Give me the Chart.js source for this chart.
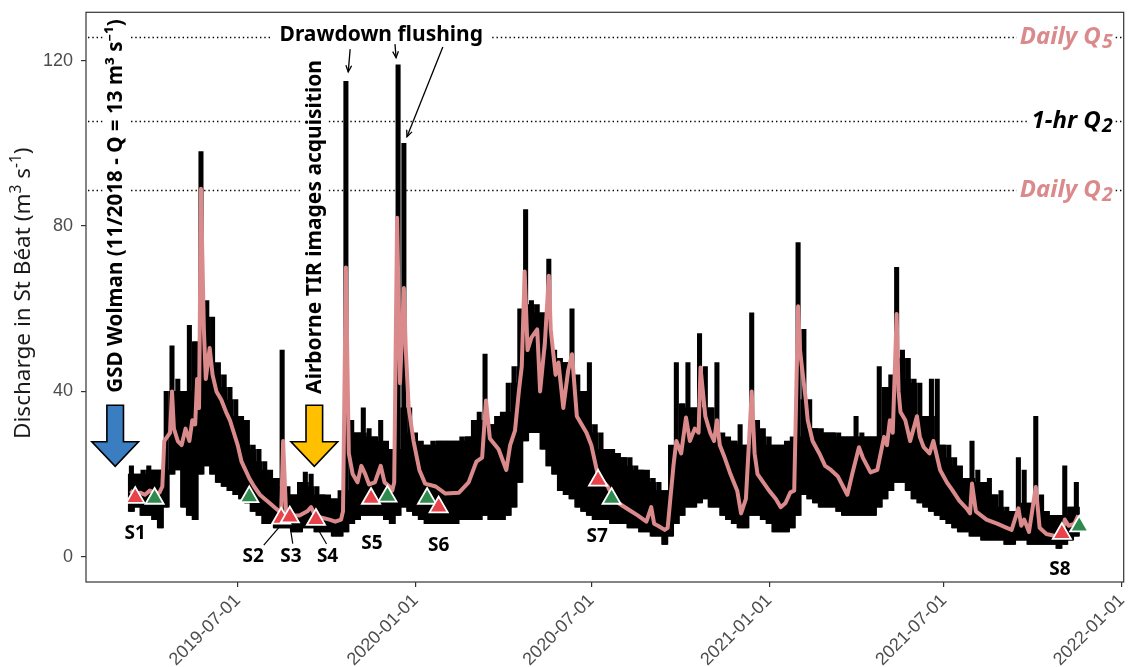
<!DOCTYPE html>
<html>
<head>
<meta charset="utf-8">
<title>Discharge in St Béat</title>
<script src="https://cdn.jsdelivr.net/npm/chart.js@4/dist/chart.umd.min.js"></script>
<style>
  html, body { margin: 0; padding: 0; background: #fff; }
</style>
</head>
<body>
<canvas id="qChart" width="1136" height="667"></canvas>
<script>
// day numbers count from 2019-01-01
const origin = Date.UTC(2019, 0, 1);
const toDay = s => (Date.parse(s) - origin) / 864e5;
const toDate = d => new Date(origin + d * 864e5).toISOString().slice(0, 10);

const tickDates = ['2019-07-01', '2020-01-01', '2020-07-01', '2021-01-01', '2021-07-01', '2022-01-01'];
const qTicks = [0, 40, 80, 120];

// hourly record, summarised in 6-day blocks (lowest / highest hourly value)
const hourlyStart = '2019-03-10';
const hourlyStep = 6;
const hourlyMin = [
  11, 12, 10, 10, 9, 7,
  12, 20, 21, 12, 10, 9,
  20, 22, 20, 18, 17, 16,
  15, 14, 13, 11, 10, 8,
  8, 7, 7, 7, 6, 6,
  7, 7, 6, 6, 6, 5,
  5, 6, 8, 9, 10, 10,
  10, 10, 9, 8, 10, 12,
  11, 10, 9, 8, 8, 8,
  8, 8, 8, 9, 9, 9,
  9, 10, 9, 9, 9, 10,
  12, 18, 28, 30, 30, 26,
  22, 20, 16, 15, 14, 12,
  11, 10, 9, 9, 9, 8,
  8, 8, 7, 7, 6, 6,
  5, 5, 3, 5, 8, 10,
  12, 12, 13, 14, 12, 12,
  10, 9, 8, 7, 7, 10,
  10, 9, 8, 6, 6, 6,
  7, 10, 15, 14, 13, 12,
  12, 12, 11, 10, 10, 10,
  10, 10, 10, 12, 14, 16,
  18, 18, 16, 14, 13, 12,
  11, 10, 9, 8, 7, 6,
  6, 5, 5, 4, 4, 4,
  4, 3, 3, 4, 4, 3,
  3, 3, 3, 3, 2, 3,
  4, 5
];
const hourlyMax = [
  22, 20, 21, 22, 21, 21,
  40, 51, 43, 40, 56, 52,
  98, 62, 58, 47, 44, 41,
  38, 34, 33, 27, 26, 23,
  21, 19, 50, 17, 15, 18,
  20.5, 20, 17, 15, 15, 14,
  16, 115, 33, 30, 36, 31,
  29, 33, 28, 26, 119, 100,
  36, 30, 28, 27, 28, 28,
  28, 28, 28, 29, 29, 33,
  35, 49, 32, 34, 35, 42,
  46, 60, 84, 62, 61, 59,
  72, 50, 48, 47, 60, 44,
  40, 47, 32, 30, 26, 26,
  25, 24, 24, 22, 21, 21,
  19, 18, 16, 27, 47, 37,
  47, 36, 54, 46, 36, 47,
  30, 29, 28, 32, 27, 59,
  33, 31, 29, 27, 27, 28,
  29, 76, 55, 38, 31, 31,
  30, 30, 30, 29, 29, 34,
  30, 29, 29, 46, 41, 44,
  70, 50, 48, 43, 42, 34,
  43, 43, 27, 27, 24, 22,
  19, 28, 21, 18, 19, 15,
  16, 12, 11, 24, 21, 13,
  34, 15, 11, 10, 10, 22,
  12, 18
];

// daily mean discharge
const dailyDay = [
  70, 75, 80, 85, 90, 95, 100, 103, 105, 108,
  111, 113, 115, 119, 123, 127, 131, 134, 137, 139,
  141, 143, 146, 148, 152, 155, 159, 164, 169, 173,
  177, 181, 185, 189, 193, 198, 204, 209, 214, 219,
  224, 226, 228, 231, 237, 245, 253, 257, 261, 267,
  276, 282, 288, 290, 293, 296, 300, 305, 309, 313,
  317, 323, 329, 333, 338, 341, 343, 346, 349, 353,
  355, 358, 363, 369, 375, 386, 396, 410, 420, 428,
  434, 438, 442, 451, 459, 463, 468, 472, 475, 478,
  481, 485, 491, 494, 499, 503, 505, 510, 513, 518,
  523, 527, 532, 537, 542, 547, 554, 564, 568, 575,
  585, 595, 604, 609, 612, 616, 623, 626, 628, 632,
  635, 640, 645, 649, 654, 658, 660, 665, 670, 674,
  677, 680, 685, 691, 698, 702, 707, 713, 716, 719,
  725, 731, 738, 743, 748, 753, 757, 761, 763, 765,
  769, 771, 776, 783, 789, 795, 802, 812, 817, 824,
  828, 836, 843, 850, 853, 856, 859, 863, 865, 867,
  872, 877, 884, 887, 891, 897, 901, 908, 915, 921,
  928, 936, 939, 941, 945, 956, 967, 977, 982, 989,
  992, 995, 1000, 1007, 1011, 1018, 1028, 1034, 1037, 1041,
  1047, 1051
];
const dailyQ = [
  16, 15, 15.5, 15, 16, 15.5, 15.5, 17, 28, 29,
  30, 40, 31, 28, 27, 31, 28, 33, 32, 43,
  36, 89, 55, 43, 50.5, 44, 40, 38, 35, 33,
  30, 27, 23, 21, 19, 17, 15, 14, 13, 12,
  11, 10.5, 28, 11, 10, 10, 11, 12, 10, 9.5,
  9, 8.5, 9, 11, 70, 25, 20, 18, 22, 20,
  17.5, 18, 22, 18, 17, 16, 18, 82, 42, 65,
  50, 36, 28, 21, 17.7, 17, 15.3, 15.5, 18, 23,
  24, 37.8, 28.6, 26, 21, 27, 30.5, 40, 46, 69,
  50, 53, 55, 40, 52, 68, 55, 44, 47, 36,
  45, 49, 34, 32, 30, 27, 19.5, 17, 15, 13,
  11.5, 10, 8.5, 12, 8, 7.5, 6.5, 7, 12, 22,
  28, 25, 33.7, 28, 31, 30, 45.8, 34, 30, 28,
  33, 27, 24, 20, 16, 10.5, 14, 40, 25, 20,
  18, 16, 14, 12, 13, 15.6, 16, 60.6, 50, 45.8,
  38, 33, 28, 25, 22, 21, 19.5, 15, 20, 26.5,
  24, 20.4, 21, 29, 27, 33, 30, 58.7, 40, 35,
  33, 28, 34, 29, 26.5, 25, 28, 21, 18, 16,
  13.5, 11.5, 10.5, 17.7, 11, 9, 8, 7, 6.5, 11.7,
  7.5, 9, 6, 16.9, 7, 5.5, 5, 5, 9, 7.5,
  8, 10
];

// survey visits
const surveyNames = ['S1', 'S2', 'S3', 'S4', 'S5', 'S6', 'S7', 'S8'];
const redDay = [75, 226, 235, 262, 319, 389, 554, 1034];
const redQ = [14.3, 9.3, 9.6, 9.0, 14.1, 12.0, 18.5, 5.6];
const greenDay = [95, 193, 336, 377, 568, 1052];
const greenQ = [14.1, 14.5, 14.6, 14.1, 14.1, 7.4];

// flood quantiles
const refNames = ['Daily Q', '1-hr Q', 'Daily Q'];
const refIndex = ['5', '2', '2'];
const refQ = [125.8, 105.5, 88.8];

const PINK = '#DB8A8C';
const RED = '#E8434B';
const GREEN = '#2F8A4E';
const FONT = '"Noto Sans", "Open Sans", sans-serif';

// each block: a full-width body up to the lowest neighbouring peak, and a thin needle to its own peak
const d0 = toDay(hourlyStart);
const blockMid = i => d0 + i * hourlyStep + hourlyStep / 2;
const hourlyNeedles = hourlyMin.map((lo, i) => ({ x: blockMid(i), y: [lo, hourlyMax[i]] }));
const hourlyBody = hourlyMin.map((lo, i) => {
  const top = Math.min(hourlyMax[i], hourlyMax[Math.max(i - 1, 0)], hourlyMax[Math.min(i + 1, hourlyMax.length - 1)]);
  return { x: blockMid(i), y: [lo, top] };
});
const dailyPts = dailyDay.map((d, i) => ({ x: d, y: dailyQ[i] }));
const redPts = redDay.map((d, i) => ({ x: d, y: redQ[i] }));
const greenPts = greenDay.map((d, i) => ({ x: d, y: greenQ[i] }));

// label placements (day, discharge)
const surveyLabelAt = [[75, 5.5], [197, 0], [236, 0], [274, 0], [320, 3.2], [389, 2.8], [553, 4.8], [1032, -3.2]];
const leaders = [[208, 2.8, 224, 7.2], [238, 3.2, 235.3, 7.2], [273, 3.1, 262.7, 7.2]];
const flushArrows = [[297.4, 122.8, 295.4, 117.3], [343.8, 124, 344.9, 120.7], [393.3, 123.3, 356.2, 101.6]];

function boxedText(ctx, txt, x, y, color, padX) {
  const w = ctx.measureText(txt).width;
  const x0 = ctx.textAlign === 'center' ? x - w / 2 : (ctx.textAlign === 'right' ? x - w : x);
  ctx.fillStyle = '#fff';
  ctx.fillRect(x0 - padX, y - 18, w + 2 * padX, 24);
  ctx.fillStyle = color;
  ctx.fillText(txt, x, y);
}

function arrowLine(ctx, x0, y0, x1, y1) {
  ctx.beginPath();
  ctx.moveTo(x0, y0);
  ctx.lineTo(x1, y1);
  ctx.stroke();
  const ang = Math.atan2(y1 - y0, x1 - x0), L = 7, sp = 0.42;
  ctx.beginPath();
  ctx.moveTo(x1 - L * Math.cos(ang - sp), y1 - L * Math.sin(ang - sp));
  ctx.lineTo(x1, y1);
  ctx.lineTo(x1 - L * Math.cos(ang + sp), y1 - L * Math.sin(ang + sp));
  ctx.stroke();
}

function blockArrow(ctx, tx, ty, color) {
  const sw = 8.3, hw = 23.3, hl = 24.5, len = 61;
  ctx.beginPath();
  ctx.moveTo(tx - sw, ty - len);
  ctx.lineTo(tx + sw, ty - len);
  ctx.lineTo(tx + sw, ty - hl);
  ctx.lineTo(tx + hw, ty - hl);
  ctx.lineTo(tx, ty);
  ctx.lineTo(tx - hw, ty - hl);
  ctx.lineTo(tx - sw, ty - hl);
  ctx.closePath();
  ctx.fillStyle = color;
  ctx.fill();
  ctx.lineJoin = 'miter';
  ctx.lineWidth = 1.6;
  ctx.strokeStyle = '#000';
  ctx.stroke();
}

function verticalText(ctx, txt, x, y, size) {
  ctx.save();
  ctx.translate(x, y);
  ctx.rotate(-Math.PI / 2);
  ctx.font = 'bold ' + size + 'px ' + FONT;
  ctx.textAlign = 'left';
  ctx.textBaseline = 'middle';
  const w = ctx.measureText(txt).width;
  ctx.fillStyle = '#fff';
  ctx.fillRect(-2, -13, w + 4, 26);
  ctx.fillStyle = '#000';
  ctx.fillText(txt, 0, 0);
  ctx.restore();
}

// axis title with raised unit exponents
function yTitle(ctx, cx, cy) {
  const parts = [['Discharge in St Béat (m', 0], ['3', 1], [' s', 0], ['-1', 1], [')', 0]];
  const big = '22.5px ' + FONT, small = '15.5px ' + FONT;
  let total = 0;
  parts.forEach(p => { ctx.font = p[1] ? small : big; total += ctx.measureText(p[0]).width; });
  ctx.save();
  ctx.translate(cx, cy);
  ctx.rotate(-Math.PI / 2);
  ctx.fillStyle = '#1A1A1A';
  ctx.textAlign = 'left';
  ctx.textBaseline = 'alphabetic';
  let pos = -total / 2;
  parts.forEach(p => {
    ctx.font = p[1] ? small : big;
    ctx.fillText(p[0], pos, p[1] ? -1 : 8);
    pos += ctx.measureText(p[0]).width;
  });
  ctx.restore();
}

const annotate = {
  id: 'annotate',
  beforeDatasetsDraw(chart) {
    const { ctx, chartArea: a, scales: { y } } = chart;
    ctx.save();
    ctx.strokeStyle = '#000';
    ctx.lineWidth = 1.4;
    ctx.setLineDash([1.4, 2.9]);
    refQ.forEach(q => {
      const py = Math.round(y.getPixelForValue(q)) + 0.5;
      ctx.beginPath();
      ctx.moveTo(a.left + 2, py);
      ctx.lineTo(a.right, py);
      ctx.stroke();
    });
    ctx.restore();
  },
  afterDatasetsDraw(chart) {
    const { ctx, chartArea: a, scales: { x, y } } = chart;
    const px = d => x.getPixelForValue(d);
    const py = q => y.getPixelForValue(q);
    ctx.save();

    // quantile labels, right aligned
    refQ.forEach((q, i) => {
      const color = i === 1 ? '#000' : PINK;
      const base = py(q) + 7;
      ctx.font = 'italic bold 24px ' + FONT;
      const w1 = ctx.measureText(refNames[i]).width;
      ctx.font = 'italic bold 19.5px ' + FONT;
      const w2 = ctx.measureText(refIndex[i]).width;
      const x0 = px(1085.5) - w1 - w2;
      ctx.fillStyle = '#fff';
      ctx.fillRect(x0 - 3, base - 19, w1 + w2 + 5, 28);
      ctx.textAlign = 'left';
      ctx.textBaseline = 'alphabetic';
      ctx.fillStyle = color;
      ctx.font = 'italic bold 24px ' + FONT;
      ctx.fillText(refNames[i], x0, base);
      ctx.font = 'italic bold 19.5px ' + FONT;
      ctx.fillText(refIndex[i], x0 + w1 + 1, base + 4);
    });

    // drawdown flushing events
    ctx.font = 'bold 21px ' + FONT;
    ctx.textAlign = 'center';
    ctx.textBaseline = 'alphabetic';
    boxedText(ctx, 'Drawdown flushing', px(329.6), py(124.7), '#000', 8);
    ctx.strokeStyle = '#000';
    ctx.lineWidth = 1.3;
    flushArrows.forEach(r => arrowLine(ctx, px(r[0]), py(r[1]), px(r[2]), py(r[3])));

    // campaign markers
    verticalText(ctx, 'GSD Wolman (11/2018 - Q = 13 m³ s⁻¹)', px(55.2), py(39.7), 20.6);
    verticalText(ctx, 'Airborne TIR images acquisition', px(261.4), py(39.4), 21);
    blockArrow(ctx, px(54.2), py(21.9), '#3A7DC0');
    blockArrow(ctx, px(260.3), py(21.9), '#FFC000');

    // survey labels
    ctx.font = 'bold 19px ' + FONT;
    ctx.textAlign = 'center';
    ctx.textBaseline = 'middle';
    ctx.fillStyle = '#000';
    surveyNames.forEach((s, i) => ctx.fillText(s, px(surveyLabelAt[i][0]), py(surveyLabelAt[i][1])));
    ctx.lineWidth = 1.2;
    ctx.strokeStyle = '#000';
    leaders.forEach(l => {
      ctx.beginPath();
      ctx.moveTo(px(l[0]), py(l[1]));
      ctx.lineTo(px(l[2]), py(l[3]));
      ctx.stroke();
    });

    // panel border
    ctx.strokeStyle = '#333';
    ctx.lineWidth = 1.2;
    ctx.strokeRect(a.left, a.top, a.right - a.left, a.bottom - a.top);
    ctx.restore();
  },
  afterDraw(chart) {
    const a = chart.chartArea;
    yTitle(chart.ctx, 22, (a.top + a.bottom) / 2 - 4);
  }
};

new Chart(document.getElementById('qChart'), {
  type: 'line',
  data: {
    datasets: [
      { label: 'Survey', data: redPts, showLine: false, order: 0, pointStyle: 'triangle',
        pointRadius: 10.5, pointBackgroundColor: RED, pointBorderColor: '#fff', pointBorderWidth: 1.8 },
      { label: 'Survey (after)', data: greenPts, showLine: false, order: 0, pointStyle: 'triangle',
        pointRadius: 10.5, pointBackgroundColor: GREEN, pointBorderColor: '#fff', pointBorderWidth: 1.8 },
      { label: 'Daily', data: dailyPts, order: 1, borderColor: PINK, borderWidth: 4,
        pointRadius: 0, tension: 0, borderJoinStyle: 'round' },
      { type: 'bar', label: 'Hourly peaks', data: hourlyNeedles, order: 2, backgroundColor: '#000',
        borderWidth: 0, barThickness: 4.4, grouped: false },
      { type: 'bar', label: 'Hourly', data: hourlyBody, order: 3, backgroundColor: '#000',
        borderWidth: 0, barThickness: 6.3, grouped: false }
    ]
  },
  options: {
    responsive: false,
    animation: false,
    events: [],
    layout: { padding: { top: 9, right: 9, left: 0, bottom: 0 } },
    plugins: { legend: { display: false }, tooltip: { enabled: false } },
    scales: {
      x: {
        type: 'linear',
        offset: false,
        min: 24,
        max: 1098,
        afterBuildTicks: s => { s.ticks = tickDates.map(t => ({ value: toDay(t) })); },
        afterFit: s => { s.height = 85; s.paddingLeft = 0; s.paddingRight = 0; },
        border: { display: false },
        grid: { offset: false, drawOnChartArea: false, drawTicks: true, tickLength: 5, color: '#333', lineWidth: 1.2 },
        ticks: {
          autoSkip: false, minRotation: 45, maxRotation: 45, padding: 3,
          color: '#4D4D4D', font: { family: '"Liberation Sans", Arial, sans-serif', size: 18 },
          callback: v => toDate(v)
        }
      },
      y: {
        min: -6.1,
        max: 131.7,
        afterBuildTicks: s => { s.ticks = qTicks.map(v => ({ value: v })); },
        afterFit: s => { s.width = 86; s.paddingTop = 0; s.paddingBottom = 0; },
        border: { display: false },
        grid: { drawOnChartArea: false, drawTicks: true, tickLength: 5, color: '#333', lineWidth: 1.2 },
        ticks: {
          padding: 8, color: '#4D4D4D',
          font: { family: '"Liberation Sans", Arial, sans-serif', size: 18 }
        }
      }
    }
  },
  plugins: [annotate]
});
</script>
</body>
</html>
